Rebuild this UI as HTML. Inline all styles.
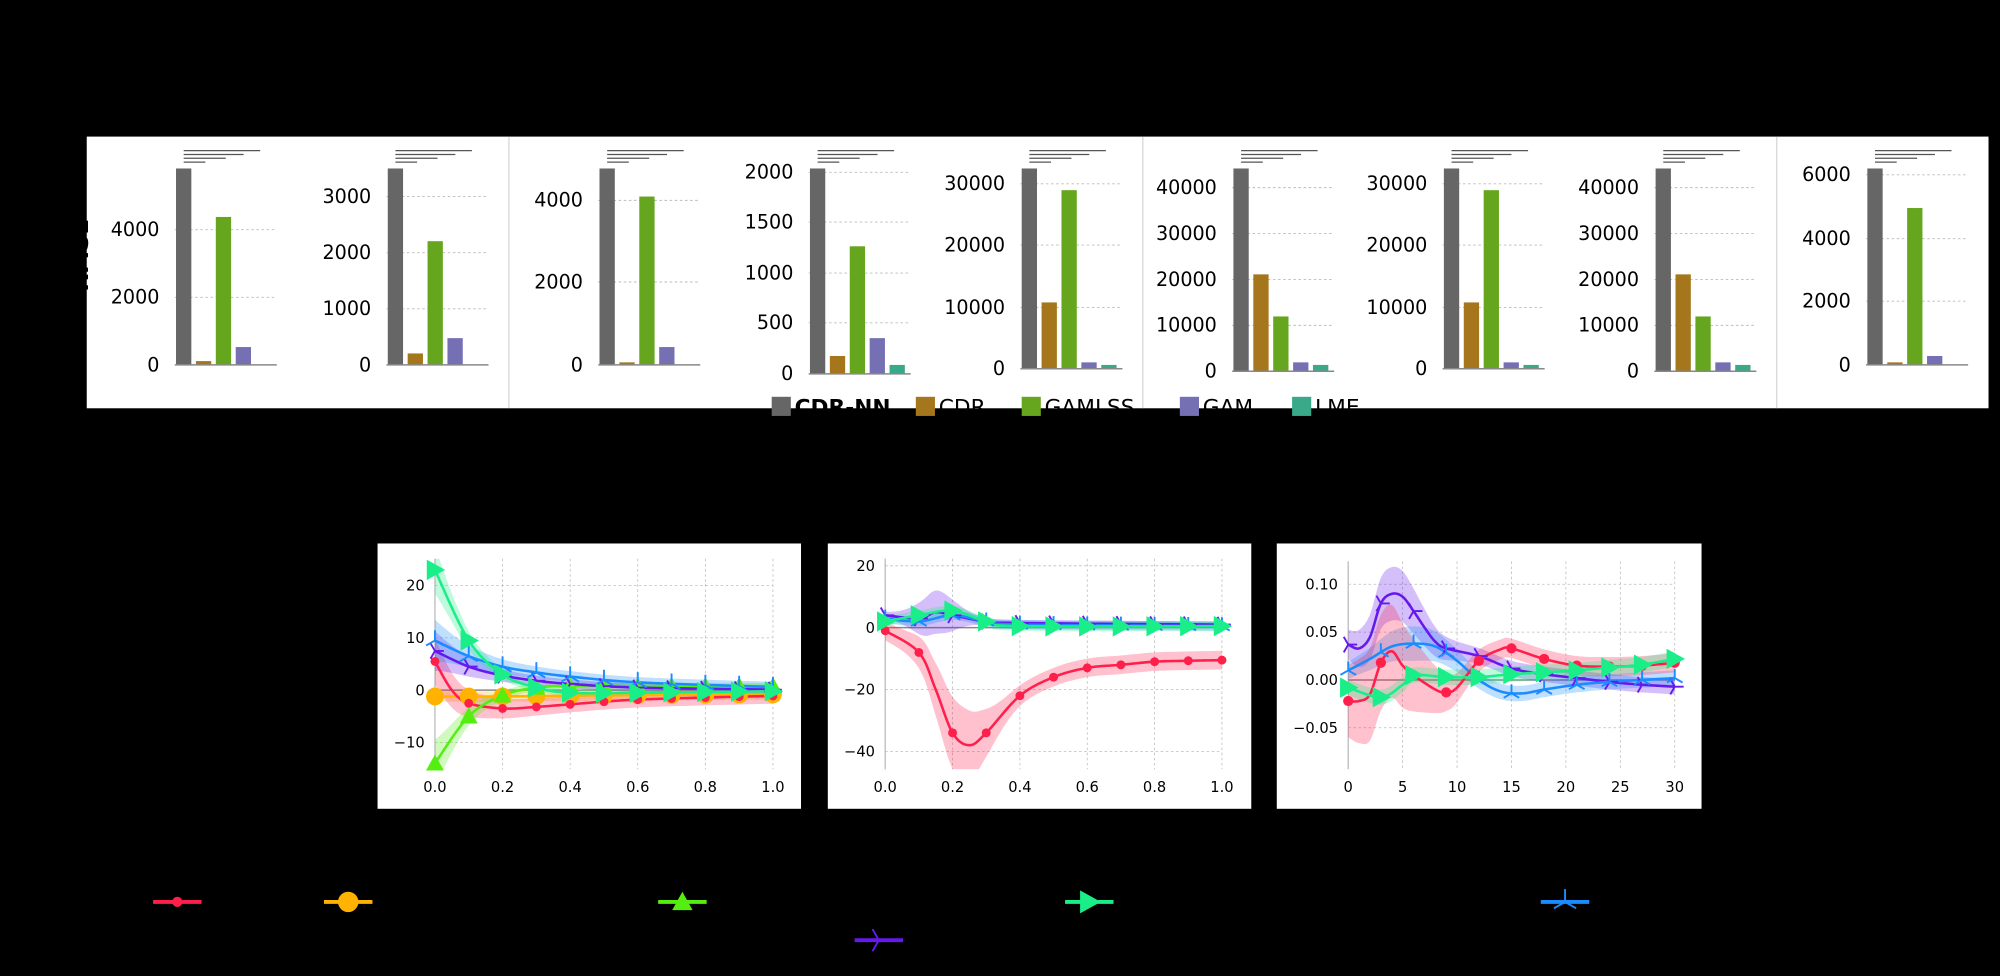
<!DOCTYPE html>
<html><head><meta charset="utf-8"><style>
html,body{margin:0;padding:0;background:#000;}
svg{display:block;}
text{font-family:"DejaVu Sans","Liberation Sans",sans-serif;}
</style></head><body>
<svg id="s" xmlns="http://www.w3.org/2000/svg" width="2000" height="976" viewBox="0 0 1568 765">
<rect width="1568" height="765" fill="#000"/>
<rect x="68" y="107" width="1491" height="213" fill="#fff"/>
<line x1="399" y1="107" x2="399" y2="320" stroke="#ccc" stroke-width="0.8"/>
<line x1="896" y1="107" x2="896" y2="320" stroke="#ccc" stroke-width="0.8"/>
<line x1="1393" y1="107" x2="1393" y2="320" stroke="#ccc" stroke-width="0.8"/>
<text x="69" y="200" font-size="18" font-weight="bold" fill="#000" transform="rotate(-90 69 200)" text-anchor="middle">RMSE</text>
<g id="bars"></g>
<g id="lines"></g>
</svg>
<script>
const NS="http://www.w3.org/2000/svg";
function el(t,a,p,txt){const e=document.createElementNS(NS,t);for(const k in a)e.setAttribute(k,a[k]);if(txt!==undefined)e.textContent=txt;(p||document.getElementById('s')).appendChild(e);return e;}
const B=document.getElementById('bars');
const cols=['#666666','#a6761d','#66a61e','#7570b3','#3aa98a'];
const subs=[
 [137,286,[['0',286],['2000',233],['4000',180]],[132,283,170,272]],
 [303,286,[['0',286],['1000',242],['2000',198],['3000',154]],[132,277,189,265]],
 [469,286,[['0',286],['2000',221],['4000',157]],[132,284,154,272]],
 [634,293,[['0',293],['500',253],['1000',214],['1500',174],['2000',135]],[132,279,193,265,286]],
 [800,289,[['0',289],['10000',241],['20000',192],['30000',144]],[132,237,149,284,286]],
 [966,291,[['0',291],['10000',255],['20000',219],['30000',183],['40000',147]],[132,215,248,284,286]],
 [1131,289,[['0',289],['10000',241],['20000',192],['30000',144]],[132,237,149,284,286]],
 [1297,291,[['0',291],['10000',255],['20000',219],['30000',183],['40000',147]],[132,215,248,284,286]],
 [1463,286,[['0',286],['2000',236],['4000',187],['6000',137]],[132,284,163,279]]
];
subs.forEach(([ax,base,ticks,tops])=>{
 ticks.forEach(([l,y])=>{
  if(l!=='0') el('line',{x1:ax,y1:y,x2:ax+80,y2:y,stroke:'#bbb','stroke-width':0.7,'stroke-dasharray':'2,2'},B);
  el('text',{x:ax-12,y:y+5,'font-size':15,'text-anchor':'end',fill:'#000'},B,l);
 });
 tops.forEach((t,i)=>{el('rect',{x:ax+1+i*15.6,y:t,width:12,height:base-t,fill:cols[i]},B);});
 el('line',{x1:ax,y1:base,x2:ax+80,y2:base,stroke:'#888','stroke-width':1.2},B);
 [[60,118],[47,121],[33,124],[17,127]].forEach(([w,y])=>el('line',{x1:ax+7,y1:y,x2:ax+7+w,y2:y,stroke:'#555','stroke-width':1},B));
});
const leg=[['CDR-NN',605,true],['CDR',718],['GAMLSS',801],['GAM',925],['LME',1013]];
leg.forEach(([t,x,b],i)=>{el('rect',{x:x,y:311,width:15,height:15,fill:cols[i]},B);el('text',{x:x+18,y:325,'font-size':17,'font-weight':b?'bold':'normal',fill:'#000'},B,t);});

const L=document.getElementById('lines');
function cr(pts,N){let out=[];for(let i=0;i<pts.length-1;i++){const p0=pts[Math.max(0,i-1)],p1=pts[i],p2=pts[i+1],p3=pts[Math.min(pts.length-1,i+2)];for(let k=0;k<N;k++){const t=k/N,t2=t*t,t3=t2*t;const f=(a,b,c,d)=>0.5*((2*b)+(-a+c)*t+(2*a-5*b+4*c-d)*t2+(-a+3*b-3*c+d)*t3);out.push([f(p0[0],p1[0],p2[0],p3[0]),f(p0[1],p1[1],p2[1],p3[1])]);}}out.push(pts[pts.length-1]);return out;}
function interp(c,x){for(let i=0;i<c.length-1;i++){if(x>=c[i][0]&&x<=c[i+1][0]){const t=(x-c[i][0])/((c[i+1][0]-c[i][0])||1);return c[i][1]+t*(c[i+1][1]-c[i][1]);}}return c[c.length-1][1];}
function marker(g,type,x,y,c,s){
 if(type==='o') el('circle',{cx:x,cy:y,r:s,fill:c},g);
 else if(type==='^') el('polygon',{points:`${x},${y-s} ${x-s},${y+s*0.8} ${x+s},${y+s*0.8}`,fill:c},g);
 else if(type==='>') el('polygon',{points:`${x+s},${y} ${x-s*0.8},${y-s} ${x-s*0.8},${y+s}`,fill:c},g);
 else if(type==='1') el('path',{d:`M${x},${y}v${-s}M${x},${y}l${-s*0.87},${s*0.5}M${x},${y}l${s*0.87},${s*0.5}`,stroke:c,'stroke-width':1.5,fill:'none'},g);
 else if(type==='4') el('path',{d:`M${x},${y}h${s}M${x},${y}l${-s*0.5},${-s*0.87}M${x},${y}l${-s*0.5},${s*0.87}`,stroke:c,'stroke-width':1.5,fill:'none'},g);
}
function plot(cfg){
 const {bx,by,bw,bh,x0,x1,xmin,xmax,y0v,ypu,ytop,ybot,xt,yt,series,mstep,id}=cfg;
 el('rect',{x:bx,y:by,width:bw,height:bh,fill:'#fff'},L);
 const X=v=>x0+(v-xmin)*(x1-x0)/(xmax-xmin), Y=v=>y0v-v*ypu;
 const cp=el('clipPath',{id:id},L);el('rect',{x:x0,y:ytop,width:x1-x0,height:ybot-ytop},cp);
 const cp2=el('clipPath',{id:id+'m'},L);el('rect',{x:x0-12,y:ytop-10,width:x1-x0+24,height:ybot-ytop+20},cp2);
 xt.forEach(([v,l])=>{el('line',{x1:X(v),y1:ytop,x2:X(v),y2:ybot,stroke:'#bbb','stroke-width':0.6,'stroke-dasharray':'2,2'},L);el('text',{x:X(v),y:ybot+18,'font-size':11.5,'text-anchor':'middle',fill:'#000'},L,l);});
 yt.forEach(([v,l])=>{el('line',{x1:x0,y1:Y(v),x2:x1,y2:Y(v),stroke:'#bbb','stroke-width':0.6,'stroke-dasharray':'2,2'},L);el('text',{x:x0-8,y:Y(v)+4,'font-size':11.5,'text-anchor':'end',fill:'#000'},L,l);});
 el('line',{x1:x0,y1:ytop,x2:x0,y2:ybot,stroke:'#bbb','stroke-width':1},L);
 el('line',{x1:x0,y1:Y(0),x2:x1,y2:Y(0),stroke:'#888','stroke-width':1.2},L);
 const g=el('g',{'clip-path':`url(#${id})`},L);
 const gm=el('g',{'clip-path':`url(#${id}m)`},L);
 series.forEach(s=>{
  const c=cr(s.p,12);
  let up=c.map(([x,y])=>[X(x),Y(y+s.b(x))]),dn=c.map(([x,y])=>[X(x),Y(y-s.b(x))]).reverse();
  el('polygon',{points:up.concat(dn).map(p=>p.join(',')).join(' '),fill:s.c,'fill-opacity':0.28},g);
 });
 series.forEach(s=>{
  const c=cr(s.p,12);
  el('polyline',{points:c.map(([x,y])=>X(x)+','+Y(y)).join(' '),fill:'none',stroke:s.c,'stroke-width':2},g);
  for(let v=xmin;v<=xmax+1e-9;v+=mstep){marker(gm,s.m,X(v),Y(interp(c,v)),s.c,s.s);}
 });
}
const RED='#ff1f4b',ORG='#ffb300',LIME='#55ee11',SPR='#19ee88',PUR='#6619ee',BLU='#1a8cff';
plot({id:'c1',bx:296,by:426,bw:332,bh:208,x0:341,x1:606,xmin:0,xmax:1,y0v:541,ypu:4.1,ytop:438,ybot:603,mstep:0.1,
 xt:[[0,'0.0'],[0.2,'0.2'],[0.4,'0.4'],[0.6,'0.6'],[0.8,'0.8'],[1,'1.0']],
 yt:[[20,'20'],[10,'10'],[0,'0'],[-10,'\u221210']],
 series:[
 {c:ORG,m:'o',s:7,b:x=>1,p:[[0,-1.2],[0.2,-1.2],[0.5,-1],[1,-0.8]]},
 {c:RED,m:'o',s:3.5,b:x=>1.5+3*Math.exp(-x/0.1),p:[[0,5.5],[0.05,0],[0.1,-2.5],[0.2,-3.5],[0.3,-3.2],[0.4,-2.7],[0.5,-2.2],[0.6,-1.8],[0.8,-1.4],[1,-1.1]]},
 {c:LIME,m:'^',s:7,b:x=>0.6+4*Math.exp(-x/0.08),p:[[0,-14],[0.1,-5],[0.2,-1],[0.3,0.5],[0.4,0.8],[0.6,0.8],[1,0.8]]},
 {c:PUR,m:'4',s:7,b:x=>0.8+3*Math.exp(-x/0.1),p:[[0,7.5],[0.1,4.5],[0.2,2.8],[0.3,1.8],[0.4,1.2],[0.6,0.5],[1,0.1]]},
 {c:BLU,m:'1',s:8,b:x=>1+3*Math.exp(-x/0.1),p:[[0,9.5],[0.1,6.5],[0.2,4.5],[0.3,3.4],[0.4,2.6],[0.6,1.5],[1,0.6]]},
 {c:SPR,m:'>',s:8,b:x=>0.6+4*Math.exp(-x/0.08),p:[[0,23],[0.1,9.5],[0.2,3],[0.3,0.5],[0.4,-0.5],[0.6,-0.5],[1,-0.2]]}
 ]});
plot({id:'c2',bx:649,by:426,bw:332,bh:208,x0:694,x1:958,xmin:0,xmax:1,y0v:492,ypu:2.425,ytop:438,ybot:603,mstep:0.1,
 xt:[[0,'0.0'],[0.2,'0.2'],[0.4,'0.4'],[0.6,'0.6'],[0.8,'0.8'],[1,'1.0']],
 yt:[[20,'20'],[0,'0'],[-20,'\u221220'],[-40,'\u221240']],
 series:[
 {c:RED,m:'o',s:3.5,b:x=>3+9*Math.exp(-Math.pow((x-0.22)/0.1,2)),p:[[0,-1],[0.1,-8],[0.15,-20],[0.2,-34],[0.25,-38],[0.3,-34],[0.4,-22],[0.5,-16],[0.6,-13],[0.7,-12],[0.8,-11],[0.9,-10.7],[1,-10.5]]},
 {c:PUR,m:'4',s:7,b:x=>1+6*Math.exp(-Math.pow((x-0.15)/0.08,2)),p:[[0,4],[0.1,3],[0.15,5],[0.2,4],[0.3,2],[0.4,1.5],[1,1]]},
 {c:BLU,m:'1',s:7,b:x=>1.5,p:[[0,3],[0.1,2],[0.2,4],[0.3,2],[0.4,1],[1,0.5]]},
 {c:SPR,m:'>',s:8,b:x=>1.5,p:[[0,2],[0.1,4],[0.2,5.5],[0.3,2],[0.4,0.5],[1,0.5]]}
 ]});
plot({id:'c3',bx:1001,by:426,bw:333,bh:208,x0:1057,x1:1313,xmin:0,xmax:30,y0v:533,ypu:750,ytop:440,ybot:603,mstep:3,
 xt:[[0,'0'],[5,'5'],[10,'10'],[15,'15'],[20,'20'],[25,'25'],[30,'30']],
 yt:[[0.1,'0.10'],[0.05,'0.05'],[0,'0.00'],[-0.05,'\u22120.05']],
 series:[
 {c:PUR,m:'4',s:7,b:x=>0.008+0.02*Math.exp(-Math.pow((x-4)/4,2)),p:[[0,0.037],[1,0.033],[2,0.045],[3,0.08],[4,0.09],[5,0.087],[6,0.072],[7,0.055],[8,0.04],[9,0.033],[12,0.025],[15,0.012],[18,0.006],[21,0.002],[24,-0.002],[27,-0.005],[30,-0.007]]},
 {c:BLU,m:'1',s:7,b:x=>0.008+0.01*Math.exp(-Math.pow((x-6)/4,2)),p:[[0,0.01],[2,0.022],[4,0.035],[6,0.038],[8,0.035],[10,0.02],[12,0],[14,-0.012],[16,-0.014],[18,-0.01],[21,-0.005],[24,-0.002],[30,0.002]]},
 {c:RED,m:'o',s:4,b:x=>0.01+0.04*Math.exp(-Math.pow((x-3)/5,2)),p:[[0,-0.022],[1,-0.022],[2,-0.015],[3,0.018],[4,0.03],[5,0.015],[6,0.005],[8,-0.01],[9,-0.013],[10,-0.008],[12,0.02],[14,0.032],[15,0.033],[18,0.022],[21,0.015],[24,0.014],[27,0.015],[30,0.018]]},
 {c:SPR,m:'>',s:8,b:x=>0.008,p:[[0,-0.008],[3,-0.018],[5,-0.005],[6,0.005],[9,0.003],[12,0.003],[15,0.006],[18,0.008],[21,0.01],[24,0.013],[27,0.016],[30,0.022]]}
 ]});
const lg=[[139,707,RED,'o',4],[273,707,ORG,'o',8],[535,707,LIME,'^',8],[854,707,SPR,'>',9],[1227,707,BLU,'1',10],[689,737,PUR,'4',10]];
lg.forEach(([x,y,c,m,s])=>{el('line',{x1:x-19,y1:y,x2:x+19,y2:y,stroke:c,'stroke-width':3},L);marker(L,m,x,y,c,s);});
</script>
</body></html>
